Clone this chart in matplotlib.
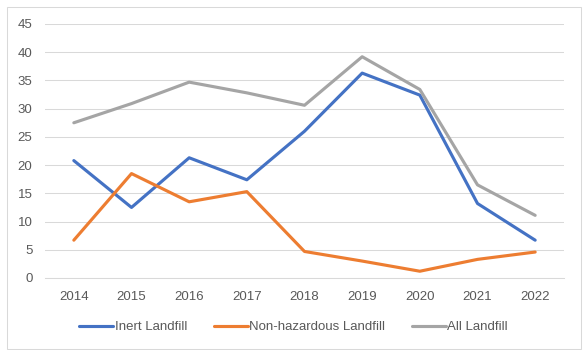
import matplotlib
matplotlib.use('Agg')
import matplotlib.pyplot as plt
from matplotlib.patches import Rectangle

years = ['2014', '2015', '2016', '2017', '2018', '2019', '2020', '2021', '2022']
inert = [20.8, 12.5, 21.3, 17.4, 26.0, 36.3, 32.4, 13.2, 6.7]
non_hazardous = [6.7, 18.5, 13.5, 15.3, 4.7, 3.0, 1.2, 3.3, 4.6]
all_landfill = [27.5, 30.9, 34.7, 32.8, 30.6, 39.2, 33.4, 16.5, 11.1]
y_ticks = [0, 5, 10, 15, 20, 25, 30, 35, 40, 45]

plt.rcParams['font.family'] = ['Liberation Sans', 'DejaVu Sans']
text_color = '#595959'

fig = plt.figure(figsize=(5.87, 3.5), dpi=100)
ax = fig.add_axes([45 / 587, 1 - 278 / 350, (564 - 45) / 587, (278 - 24) / 350])

x = range(len(years))
ax.plot(x, inert, color='#4472C4', lw=2.25, label='Inert Landfill', solid_capstyle='round')
ax.plot(x, non_hazardous, color='#ED7D31', lw=2.25, label='Non-hazardous Landfill', solid_capstyle='round')
ax.plot(x, all_landfill, color='#A5A5A5', lw=2.25, label='All Landfill', solid_capstyle='round')

ax.set_xlim(-0.5, len(years) - 0.5)
ax.set_ylim(0, 45)
ax.set_yticks(y_ticks)
ax.set_xticks(list(x))
ax.set_xticklabels(years)
ax.grid(axis='y', color='#D9D9D9', lw=0.75)
ax.set_axisbelow(True)
for s in ['top', 'right', 'left']:
    ax.spines[s].set_visible(False)
ax.spines['bottom'].set_color('#D9D9D9')
ax.spines['bottom'].set_linewidth(0.75)
ax.tick_params(length=0, labelsize=9.5, colors=text_color, pad=9)
ax.tick_params(axis='y', pad=9)

leg = fig.legend(loc='center', bbox_to_anchor=(0.5, 1 - 327 / 350), ncol=3, frameon=False,
                 fontsize=9.5, handlelength=2.6, handletextpad=0.1, columnspacing=2.0)
for t in leg.get_texts():
    t.set_color(text_color)

fig.patches.append(Rectangle((7 / 587, 1 / 350), (581 - 7) / 587, (343 - 1) / 350,
                             transform=fig.transFigure, fill=False, edgecolor='#D9D9D9', lw=0.75))

fig.savefig('out.png', dpi=100)
